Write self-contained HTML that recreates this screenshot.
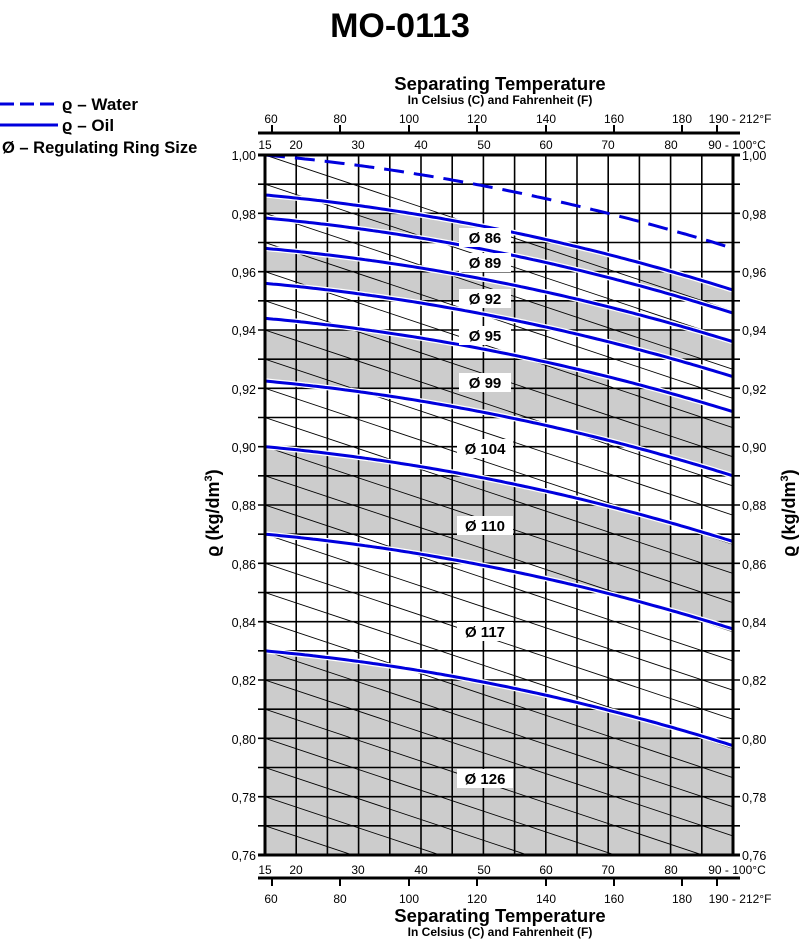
<!DOCTYPE html>
<html><head><meta charset="utf-8"><style>
html,body{margin:0;padding:0;background:#fff;}
svg{display:block;font-family:"Liberation Sans",Arial,sans-serif;}
</style></head><body>
<svg id="s" width="800" height="941" viewBox="0 0 800 941" xmlns="http://www.w3.org/2000/svg">
<rect width="800" height="941" fill="#fff"/>
<text x="400" y="37" text-anchor="middle" font-size="34" font-weight="bold">MO-0113</text>
<!-- legend -->
<line x1="0" y1="104" x2="58" y2="104" stroke="#0000dd" stroke-width="3" stroke-dasharray="14,6"/>
<text x="62" y="110" font-size="17" font-weight="bold">ϱ – Water</text>
<line x1="0" y1="125" x2="58" y2="125" stroke="#0000dd" stroke-width="3"/>
<text x="62" y="131" font-size="17" font-weight="bold">ϱ – Oil</text>
<text x="2" y="153" font-size="16.5" font-weight="bold">Ø – Regulating Ring Size</text>
<!-- top header -->
<text x="500" y="90" text-anchor="middle" font-size="18.5" font-weight="bold">Separating Temperature</text>
<text x="500" y="104" text-anchor="middle" font-size="12" font-weight="bold">In Celsius (C) and Fahrenheit (F)</text>
<text x="500" y="922" text-anchor="middle" font-size="18.5" font-weight="bold">Separating Temperature</text>
<text x="500" y="936" text-anchor="middle" font-size="12" font-weight="bold">In Celsius (C) and Fahrenheit (F)</text>
<g id="plot"></g>
<g font-size="12" text-anchor="middle">
<text x="271" y="123">60</text><text x="340" y="123">80</text><text x="409" y="123">100</text><text x="477" y="123">120</text><text x="546" y="123">140</text><text x="614" y="123">160</text><text x="682" y="123">180</text><text x="740" y="123">190 - 212°F</text>
<text x="265" y="149">15</text><text x="296" y="149">20</text><text x="358" y="149">30</text><text x="421" y="149">40</text><text x="484" y="149">50</text><text x="546" y="149">60</text><text x="608" y="149">70</text><text x="671" y="149">80</text><text x="737" y="149">90 - 100°C</text>
<text x="265" y="874">15</text><text x="296" y="874">20</text><text x="358" y="874">30</text><text x="421" y="874">40</text><text x="484" y="874">50</text><text x="546" y="874">60</text><text x="608" y="874">70</text><text x="671" y="874">80</text><text x="737" y="874">90 - 100°C</text>
<text x="271" y="903">60</text><text x="340" y="903">80</text><text x="409" y="903">100</text><text x="477" y="903">120</text><text x="546" y="903">140</text><text x="614" y="903">160</text><text x="682" y="903">180</text><text x="740" y="903">190 - 212°F</text>
</g>
<g font-size="12.5" text-anchor="end">
<text x="256" y="160">1,00</text><text x="256" y="219">0,98</text><text x="256" y="277">0,96</text><text x="256" y="335">0,94</text><text x="256" y="394">0,92</text><text x="256" y="452">0,90</text><text x="256" y="510">0,88</text><text x="256" y="569">0,86</text><text x="256" y="627">0,84</text><text x="256" y="685">0,82</text><text x="256" y="744">0,80</text><text x="256" y="802">0,78</text><text x="256" y="860">0,76</text>
</g>
<g font-size="12.5">
<text x="742" y="160">1,00</text><text x="742" y="219">0,98</text><text x="742" y="277">0,96</text><text x="742" y="335">0,94</text><text x="742" y="394">0,92</text><text x="742" y="452">0,90</text><text x="742" y="510">0,88</text><text x="742" y="569">0,86</text><text x="742" y="627">0,84</text><text x="742" y="685">0,82</text><text x="742" y="744">0,80</text><text x="742" y="802">0,78</text><text x="742" y="860">0,76</text>
</g>
<text transform="translate(219,513) rotate(-90)" text-anchor="middle" font-size="18" font-weight="bold">ϱ (kg/dm<tspan font-size="11" dy="-7">3</tspan><tspan dy="7">)</tspan></text>
<text transform="translate(795,513) rotate(-90)" text-anchor="middle" font-size="18" font-weight="bold">ϱ (kg/dm<tspan font-size="11" dy="-7">3</tspan><tspan dy="7">)</tspan></text>
<g id="labels" font-size="15" font-weight="bold" text-anchor="middle">
<rect x="459" y="228" width="52" height="19" fill="#fff"/><text x="485" y="243">Ø 86</text>
<rect x="459" y="253" width="52" height="19" fill="#fff"/><text x="485" y="268">Ø 89</text>
<rect x="459" y="289" width="52" height="19" fill="#fff"/><text x="485" y="304">Ø 92</text>
<rect x="459" y="326" width="52" height="19" fill="#fff"/><text x="485" y="341">Ø 95</text>
<rect x="459" y="373" width="52" height="19" fill="#fff"/><text x="485" y="388">Ø 99</text>
<rect x="457" y="439" width="56" height="19" fill="#fff"/><text x="485" y="454">Ø 104</text>
<rect x="457" y="516" width="56" height="19" fill="#fff"/><text x="485" y="531">Ø 110</text>
<rect x="457" y="622" width="56" height="19" fill="#fff"/><text x="485" y="637">Ø 117</text>
<rect x="457" y="769" width="56" height="19" fill="#fff"/><text x="485" y="784">Ø 126</text>
</g>
</svg>
<script>
(function(){
var NS="http://www.w3.org/2000/svg",svg=document.getElementById('s'),P=document.getElementById('plot');
var L=265,R=733,T=155,B=855,cw=31.2,rh=(B-T)/24;
function el(n,a,p){var e=document.createElementNS(NS,n);for(var k in a)e.setAttribute(k,a[k]);(p||P).appendChild(e);return e;}
function Y(v){return T+(1-v)*(B-T)/0.24;}
var starts=[0.9863,0.9784,0.968,0.956,0.944,0.9225,0.900,0.870,0.830];
var ends=[0.9537,0.9458,0.936,0.924,0.912,0.890,0.8675,0.8375,0.7975];
var a=0.45;
function cv(k,x){var t=(x-L)/(R-L);return starts[k]-(starts[k]-ends[k])*(a*t+(1-a)*t*t);}
function wv(x){var t=(x-L)/(R-L);return 1-0.032*(a*t+(1-a)*t*t);}
function path(f){var d="";for(var x=L;x<=R+0.01;x+=4){d+=(d?"L":"M")+x.toFixed(1)+","+Y(f(Math.min(x,R))).toFixed(1);}return d;}
var defs=el('defs',{});
el('clipPath',{id:'pc'},defs);el('rect',{x:L,y:T,width:R-L,height:B-T},defs.lastChild);
var bands=[[0,1],[2,3],[4,5],[6,7],[8,-1]];
bands.forEach(function(b,i){
 var up=function(x){return cv(b[0],x);},lo=b[1]<0?function(){return 0.76;}:function(x){return cv(b[1],x);};
 var d="";for(var x=L;x<=R;x+=4)d+=(d?"L":"M")+x+","+Y(up(x)).toFixed(1);
 d+="L"+R+","+Y(up(R)).toFixed(1);
 for(var x2=R;x2>=L;x2-=4)d+="L"+x2+","+Y(lo(x2)).toFixed(1);
 d+="L"+L+","+Y(lo(L)).toFixed(1)+"Z";
 var cp=el('clipPath',{id:'b'+i},defs);el('path',{d:d},cp);
 var g=el('g',{'clip-path':'url(#b'+i+')'});
 for(var c=0;c<15;c++){var x0=L+c*cw,x1=Math.min(R,x0+cw);if(x0>=R)break;var xc=(x0+x1)/2;
  for(var r=0;r<24;r++){var vc=1-0.01*r-0.005;
   if(vc<up(xc)&&vc>lo(xc))el('rect',{x:x0,y:T+r*rh,width:x1-x0,height:rh,fill:'#cccccc'},g);}}
});
for(var r=1;r<24;r++){var y=T+r*rh;el('line',{x1:L-7,y1:y,x2:R+7,y2:y,stroke:'#000','stroke-width':1.6});}
for(var c=1;c<15;c++){var x=L+c*cw;if(x>=R-1)break;el('line',{x1:x,y1:T,x2:x,y2:B,stroke:'#000','stroke-width':1.6});}
var dg=el('g',{'clip-path':'url(#pc)'});
for(var k=0;k<24;k++){var y0=T+k*rh;el('line',{x1:L,y1:y0,x2:R,y2:y0+(R-L)/3,stroke:'#000','stroke-width':0.9},dg);}
for(var k=0;k<9;k++){(function(k){var d=path(function(x){return cv(k,x);});
 el('path',{d:d,fill:'none',stroke:'#fff','stroke-width':5.5});
 el('path',{d:d,fill:'none',stroke:'#0000dd','stroke-width':3});})(k);}
el('path',{d:path(wv),fill:'none',stroke:'#0000dd','stroke-width':3,'stroke-dasharray':'20,10'});
P.appendChild(document.getElementById('labels'));
el('line',{x1:L-7,y1:T,x2:R+7,y2:T,stroke:'#000','stroke-width':3});
el('line',{x1:L-7,y1:B,x2:R+7,y2:B,stroke:'#000','stroke-width':3});
el('line',{x1:L,y1:T,x2:L,y2:B+1.5,stroke:'#000','stroke-width':3});
el('line',{x1:R,y1:T,x2:R,y2:B+1.5,stroke:'#000','stroke-width':3});
el('line',{x1:L-7,y1:133,x2:R+7,y2:133,stroke:'#000','stroke-width':3});
el('line',{x1:L-7,y1:878,x2:R+7,y2:878,stroke:'#000','stroke-width':3});
[272,340,409,477,546,614,682,717].forEach(function(x){
 el('line',{x1:x,y1:125,x2:x,y2:133,stroke:'#000','stroke-width':2});
 el('line',{x1:x,y1:878,x2:x,y2:886,stroke:'#000','stroke-width':2});});
})();
</script>
</body></html>
